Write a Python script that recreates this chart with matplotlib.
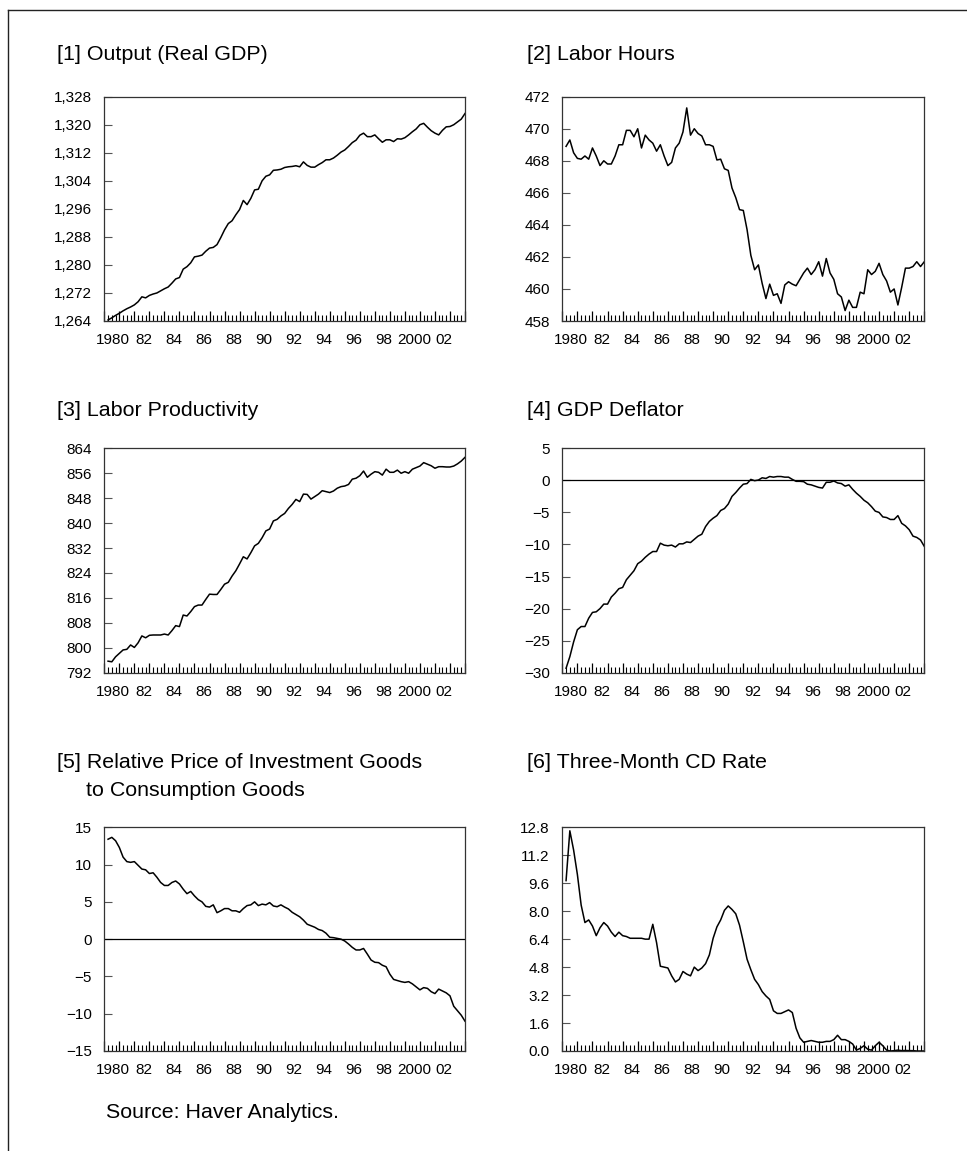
import numpy as np
import matplotlib
matplotlib.use("Agg")
import matplotlib.pyplot as plt
from matplotlib.ticker import FuncFormatter
from matplotlib.lines import Line2D

plt.rc('font', family=['Liberation Sans', 'DejaVu Sans'], size=11)
plt.rc('xtick', labelsize=11)
plt.rc('ytick', labelsize=11)

# quarterly observations, 1980Q1 .. 2003Q4
quarters = np.arange(1980.25, 2004.01, 0.25)

output_gdp = [
    1264.3, 1264.9, 1265.6, 1266.2, 1266.9, 1267.5, 1268.0, 1268.6,
    1269.5, 1270.9, 1270.6, 1271.3, 1271.7, 1272.0, 1272.6, 1273.2,
    1273.7, 1274.8, 1276.0, 1276.4, 1278.8, 1279.5, 1280.6, 1282.3,
    1282.5, 1282.8, 1283.9, 1284.8, 1285.0, 1285.8, 1287.8, 1290.0,
    1291.8, 1292.6, 1294.3, 1295.8, 1298.4, 1297.2, 1299.0, 1301.4,
    1301.6, 1304.0, 1305.3, 1305.7, 1307.0, 1307.1, 1307.3, 1307.8,
    1308.0, 1308.1, 1308.3, 1308.0, 1309.4, 1308.4, 1307.9, 1307.9,
    1308.6, 1309.2, 1310.0, 1310.0, 1310.5, 1311.3, 1312.2, 1312.8,
    1313.8, 1314.9, 1315.6, 1317.0, 1317.6, 1316.6, 1316.6, 1317.1,
    1316.0, 1315.0, 1315.7, 1315.7, 1315.2, 1316.0, 1315.9, 1316.3,
    1317.1, 1318.0, 1318.8, 1320.0, 1320.4, 1319.3, 1318.3, 1317.6,
    1317.1, 1318.4, 1319.4, 1319.5, 1320.0, 1320.8, 1321.6, 1323.2,
]

labor_hours = [
    468.9, 469.3, 468.5, 468.15, 468.1, 468.3, 468.1, 468.8,
    468.3, 467.7, 468.0, 467.8, 467.8, 468.3, 469.0, 469.0,
    469.9, 469.9, 469.5, 470.0, 468.8, 469.6, 469.3, 469.1,
    468.6, 469.0, 468.3, 467.7, 467.9, 468.8, 469.1, 469.8,
    471.3, 469.6, 470.0, 469.7, 469.55, 469.0, 469.0, 468.9,
    468.05, 468.1, 467.5, 467.4, 466.3, 465.7, 464.95, 464.9,
    463.7, 462.1, 461.2, 461.5, 460.35, 459.4, 460.3, 459.6,
    459.7, 459.1, 460.25, 460.45, 460.3, 460.2, 460.6, 461.0,
    461.3, 460.9, 461.2, 461.7, 460.8, 461.9, 461.0, 460.6,
    459.7, 459.5, 458.65, 459.3, 458.85, 458.85, 459.8, 459.7,
    461.2, 460.9, 461.1, 461.6, 460.9, 460.5, 459.8, 460.0,
    459.0, 460.1, 461.3, 461.3, 461.4, 461.7, 461.4, 461.7,
]

labor_productivity = [
    795.7, 795.5, 797.1, 798.2, 799.3, 799.5, 800.9, 800.1,
    801.6, 803.8, 803.2, 804.0, 804.1, 804.1, 804.1, 804.4,
    804.1, 805.5, 807.1, 806.8, 810.5, 810.2, 811.6, 813.2,
    813.7, 813.7, 815.5, 817.2, 817.1, 817.1, 818.7, 820.4,
    821.0, 823.0, 824.7, 826.9, 829.2, 828.5, 830.5, 832.7,
    833.5, 835.3, 837.5, 838.1, 840.7, 841.2, 842.3, 843.1,
    844.7, 846.0, 847.6, 846.9, 849.3, 849.2, 847.7, 848.5,
    849.3, 850.4, 850.1, 849.8, 850.3, 851.2, 851.7, 851.9,
    852.4, 854.1, 854.4, 855.2, 856.7, 854.7, 855.7, 856.5,
    856.3, 855.4, 857.3, 856.3, 856.3, 857.0, 856.0, 856.5,
    856.0, 857.3, 857.8, 858.3, 859.4, 858.9, 858.4, 857.6,
    858.1, 858.1, 858.0, 858.0, 858.3, 859.0, 859.9, 861.1,
]

gdp_deflator = [
    -29.3, -27.5, -25.2, -23.3, -22.8, -22.8, -21.5, -20.6,
    -20.5, -20.0, -19.3, -19.3, -18.2, -17.6, -16.9, -16.7,
    -15.5, -14.8, -14.1, -13.0, -12.6, -12.0, -11.5, -11.1,
    -11.1, -9.8, -10.1, -10.2, -10.1, -10.4, -9.9, -9.9,
    -9.6, -9.7, -9.2, -8.7, -8.4, -7.2, -6.4, -5.9,
    -5.5, -4.7, -4.4, -3.7, -2.5, -1.9, -1.2, -0.6,
    -0.5, 0.15, -0.05, 0.05, 0.4, 0.3, 0.6, 0.5,
    0.6, 0.6, 0.5, 0.5, 0.15, -0.15, -0.15, -0.2,
    -0.6, -0.7, -0.9, -1.1, -1.2, -0.3, -0.3, -0.1,
    -0.4, -0.5, -0.9, -0.7, -1.4, -2.0, -2.5, -3.1,
    -3.5, -4.1, -4.8, -5.0, -5.7, -5.8, -6.1, -6.1,
    -5.5, -6.7, -7.1, -7.7, -8.7, -8.9, -9.3, -10.3,
]

rel_price_inv = [
    13.4, 13.65, 13.2, 12.3, 11.0, 10.4, 10.3, 10.4,
    9.9, 9.4, 9.3, 8.8, 8.9, 8.3, 7.6, 7.2,
    7.2, 7.6, 7.8, 7.4, 6.7, 6.1, 6.4, 5.8,
    5.3, 5.0, 4.4, 4.3, 4.6, 3.55, 3.8, 4.1,
    4.1, 3.8, 3.8, 3.6, 4.1, 4.5, 4.6, 5.0,
    4.5, 4.7, 4.6, 4.9, 4.45, 4.35, 4.6, 4.3,
    4.05, 3.6, 3.3, 3.0, 2.55, 2.0, 1.8, 1.6,
    1.3, 1.15, 0.8, 0.25, 0.2, 0.1, 0.0, -0.25,
    -0.65, -1.1, -1.45, -1.45, -1.25, -2.0, -2.8, -3.1,
    -3.15, -3.5, -3.7, -4.7, -5.4, -5.55, -5.7, -5.8,
    -5.7, -6.0, -6.4, -6.8, -6.5, -6.6, -7.05, -7.3,
    -6.7, -6.95, -7.2, -7.6, -9.0, -9.6, -10.2, -11.0,
]

cd_rate = [
    9.75, 12.6, 11.5, 10.1, 8.35, 7.35, 7.5, 7.15,
    6.6, 7.05, 7.35, 7.15, 6.8, 6.55, 6.8, 6.6,
    6.55, 6.45, 6.45, 6.45, 6.45, 6.4, 6.4, 7.25,
    6.2, 4.85, 4.8, 4.75, 4.3, 3.95, 4.1, 4.55,
    4.4, 4.3, 4.8, 4.6, 4.75, 5.0, 5.5, 6.45,
    7.1, 7.5, 8.05, 8.3, 8.1, 7.85, 7.2, 6.25,
    5.25, 4.65, 4.1, 3.8, 3.4, 3.15, 2.95, 2.3,
    2.15, 2.15, 2.25, 2.35, 2.2, 1.3, 0.75, 0.5,
    0.55, 0.6, 0.55, 0.5, 0.5, 0.55, 0.55, 0.65,
    0.9, 0.65, 0.65, 0.55, 0.4, 0.05, 0.15, 0.3,
    0.1, 0.05, 0.3, 0.5, 0.3, 0.05, 0.0, 0.02,
    0.05, 0.02, 0.03, 0.02, 0.02, 0.0, 0.0, 0.0,
]

year_labels = ["1980", "82", "84", "86", "88", "90", "92", "94", "96", "98", "2000", "02"]
label_years = np.arange(1980, 2003, 2)

W, H = 967, 1151
fig = plt.figure(figsize=(W / 100, H / 100), dpi=100)

# outer frame: top and left rules only
fig.add_artist(Line2D([8 / W, 1.0], [1 - 10 / H, 1 - 10 / H], color='#222222', lw=1.0))
fig.add_artist(Line2D([8 / W, 8 / W], [1 - 10 / H, 0.0], color='#222222', lw=1.0))

TITLE_SIZE = 15.4


def make_panel(box, series, ylim, ystep, fmt, title, tx, ty, zero_line=False):
    left, top, right, bottom = box
    ax = fig.add_axes([left / W, 1 - bottom / H, (right - left) / W, (bottom - top) / H])
    ax.plot(quarters, series, color='black', lw=1.1)
    if zero_line:
        ax.axhline(0, color='black', lw=0.9)
    ax.set_xlim(1980, 2004)
    ax.set_ylim(*ylim)
    ax.set_yticks(np.arange(ylim[0], ylim[1] + ystep / 2, ystep))
    ax.yaxis.set_major_formatter(FuncFormatter(fmt))
    ax.tick_params(axis='y', direction='in', length=6, width=0.8, color='#555555', pad=9)

    # labels sit in the middle of the year, tick marks at year boundaries
    ax.set_xticks(label_years + 0.6)
    ax.set_xticklabels(year_labels)
    ax.tick_params(axis='x', length=0, pad=9)
    sec = ax.secondary_xaxis('bottom')
    sec.set_xticks(np.arange(1980, 2005))
    sec.set_xticks(np.arange(1980, 2004.01, 0.25), minor=True)
    sec.tick_params(axis='x', which='major', direction='in', length=7, width=0.9, labelbottom=False)
    sec.tick_params(axis='x', which='minor', direction='in', length=4, width=0.8)
    for sp in sec.spines.values():
        sp.set_visible(False)

    for sp in ax.spines.values():
        sp.set_color('#333333')
        sp.set_linewidth(0.9)

    fig.text(tx / W, 1 - ty / H, title, fontsize=TITLE_SIZE, ha='left', va='center')
    return ax


comma = lambda v, p: f"{v:,.0f}"
integer = lambda v, p: f"{v:.0f}".replace('-', '\u2212')
onedec = lambda v, p: f"{v:.1f}"

make_panel((104.3, 96.7, 465, 321), output_gdp, (1264, 1328), 8, comma,
           "[1] Output (Real GDP)", 56.7, 55)
make_panel((562.3, 96.7, 924.3, 321), labor_hours, (458, 472), 2, integer,
           "[2] Labor Hours", 526.7, 55)
make_panel((104.3, 448.3, 465, 672.7), labor_productivity, (792, 864), 8, integer,
           "[3] Labor Productivity", 56.7, 410)
make_panel((562.3, 448.3, 924.3, 672.7), gdp_deflator, (-30, 5), 5, integer,
           "[4] GDP Deflator", 526.7, 410, zero_line=True)
make_panel((104.3, 827.3, 465, 1051), rel_price_inv, (-15, 15), 5, integer,
           "[5] Relative Price of Investment Goods", 56.7, 763, zero_line=True)
fig.text(86 / W, 1 - 790 / H, "to Consumption Goods", fontsize=TITLE_SIZE, ha='left', va='center')
make_panel((562.3, 827.3, 924.3, 1051), cd_rate, (0, 12.8), 1.6, onedec,
           "[6] Three-Month CD Rate", 526.7, 763)

fig.text(106 / W, 1 - 1112 / H, "Source: Haver Analytics.", fontsize=TITLE_SIZE, ha='left', va='center')

plt.savefig("out.png", dpi=100)
